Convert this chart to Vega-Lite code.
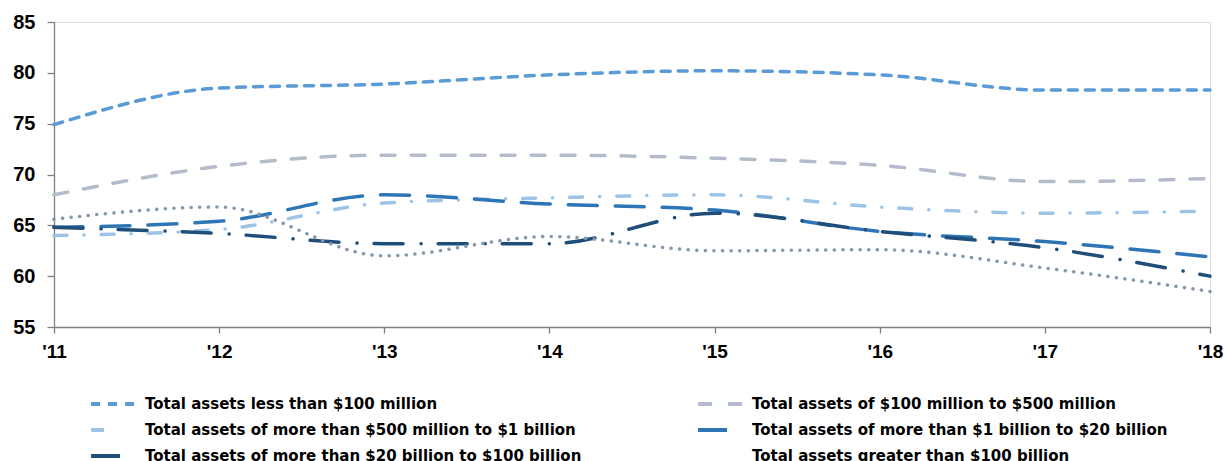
{
  "$schema": "https://vega.github.io/schema/vega-lite/v6.json",
  "autosize": {"type": "none"},
  "width": 1156,
  "height": 305,
  "padding": {"left": 54, "top": 22, "right": 17, "bottom": 134},
  "background": "white",
  "data": {
    "values": [
      {"year": "'11", "series": "Total assets less than $100 million", "value": 74.9},
      {"year": "'12", "series": "Total assets less than $100 million", "value": 78.5},
      {"year": "'13", "series": "Total assets less than $100 million", "value": 78.9},
      {"year": "'14", "series": "Total assets less than $100 million", "value": 79.8},
      {"year": "'15", "series": "Total assets less than $100 million", "value": 80.2},
      {"year": "'16", "series": "Total assets less than $100 million", "value": 79.8},
      {"year": "'17", "series": "Total assets less than $100 million", "value": 78.3},
      {"year": "'18", "series": "Total assets less than $100 million", "value": 78.3},
      {"year": "'11", "series": "Total assets of $100 million to $500 million", "value": 68.0},
      {"year": "'12", "series": "Total assets of $100 million to $500 million", "value": 70.8},
      {"year": "'13", "series": "Total assets of $100 million to $500 million", "value": 71.9},
      {"year": "'14", "series": "Total assets of $100 million to $500 million", "value": 71.9},
      {"year": "'15", "series": "Total assets of $100 million to $500 million", "value": 71.6},
      {"year": "'16", "series": "Total assets of $100 million to $500 million", "value": 70.9},
      {"year": "'17", "series": "Total assets of $100 million to $500 million", "value": 69.3},
      {"year": "'18", "series": "Total assets of $100 million to $500 million", "value": 69.6},
      {"year": "'11", "series": "Total assets of more than $500 million to $1 billion", "value": 64.0},
      {"year": "'12", "series": "Total assets of more than $500 million to $1 billion", "value": 64.6},
      {"year": "'13", "series": "Total assets of more than $500 million to $1 billion", "value": 67.2},
      {"year": "'14", "series": "Total assets of more than $500 million to $1 billion", "value": 67.7},
      {"year": "'15", "series": "Total assets of more than $500 million to $1 billion", "value": 68.0},
      {"year": "'16", "series": "Total assets of more than $500 million to $1 billion", "value": 66.8},
      {"year": "'17", "series": "Total assets of more than $500 million to $1 billion", "value": 66.2},
      {"year": "'18", "series": "Total assets of more than $500 million to $1 billion", "value": 66.4},
      {"year": "'11", "series": "Total assets of more than $1 billion to $20 billion", "value": 64.8},
      {"year": "'12", "series": "Total assets of more than $1 billion to $20 billion", "value": 65.4},
      {"year": "'13", "series": "Total assets of more than $1 billion to $20 billion", "value": 68.0},
      {"year": "'14", "series": "Total assets of more than $1 billion to $20 billion", "value": 67.1},
      {"year": "'15", "series": "Total assets of more than $1 billion to $20 billion", "value": 66.5},
      {"year": "'16", "series": "Total assets of more than $1 billion to $20 billion", "value": 64.4},
      {"year": "'17", "series": "Total assets of more than $1 billion to $20 billion", "value": 63.4},
      {"year": "'18", "series": "Total assets of more than $1 billion to $20 billion", "value": 61.9},
      {"year": "'11", "series": "Total assets of more than $20 billion to $100 billion", "value": 64.8},
      {"year": "'12", "series": "Total assets of more than $20 billion to $100 billion", "value": 64.2},
      {"year": "'13", "series": "Total assets of more than $20 billion to $100 billion", "value": 63.2},
      {"year": "'14", "series": "Total assets of more than $20 billion to $100 billion", "value": 63.2},
      {"year": "'15", "series": "Total assets of more than $20 billion to $100 billion", "value": 66.2},
      {"year": "'16", "series": "Total assets of more than $20 billion to $100 billion", "value": 64.4},
      {"year": "'17", "series": "Total assets of more than $20 billion to $100 billion", "value": 62.8},
      {"year": "'18", "series": "Total assets of more than $20 billion to $100 billion", "value": 60.0},
      {"year": "'11", "series": "Total assets greater than $100 billion", "value": 65.6},
      {"year": "'12", "series": "Total assets greater than $100 billion", "value": 66.8},
      {"year": "'13", "series": "Total assets greater than $100 billion", "value": 62.0},
      {"year": "'14", "series": "Total assets greater than $100 billion", "value": 63.9},
      {"year": "'15", "series": "Total assets greater than $100 billion", "value": 62.5},
      {"year": "'16", "series": "Total assets greater than $100 billion", "value": 62.6},
      {"year": "'17", "series": "Total assets greater than $100 billion", "value": 60.8},
      {"year": "'18", "series": "Total assets greater than $100 billion", "value": 58.5}
    ]
  },
  "mark": {"type": "line", "interpolate": "monotone", "strokeWidth": 3.5, "strokeCap": "round", "clip": false},
  "encoding": {
    "x": {
      "field": "year", "type": "ordinal", "sort": null,
      "scale": {"type": "point", "padding": 0},
      "axis": {
        "title": null, "labelAngle": 0, "labelFont": "Liberation Sans", "labelFontWeight": "bold",
        "labelFontSize": 19, "labelColor": "#000000", "labelPadding": 9,
        "domainColor": "#7f7f7f", "tickColor": "#7f7f7f", "tickSize": 6, "domainWidth": 1.3, "tickWidth": 1.3, "grid": false
      }
    },
    "y": {
      "field": "value", "type": "quantitative",
      "scale": {"domain": [55, 85], "nice": false, "zero": false},
      "axis": {
        "title": null, "values": [55, 60, 65, 70, 75, 80, 85], "labelFont": "Liberation Sans", "labelFontWeight": "bold",
        "labelFontSize": 20, "labelColor": "#000000", "labelPadding": 12,
        "domainColor": "#7f7f7f", "tickColor": "#7f7f7f", "tickSize": 7, "domainWidth": 1.3, "tickWidth": 1.3, "grid": false
      }
    },
    "color": {
      "field": "series", "type": "nominal",
      "scale": {
        "domain": [
          "Total assets less than $100 million",
          "Total assets of $100 million to $500 million",
          "Total assets of more than $500 million to $1 billion",
          "Total assets of more than $1 billion to $20 billion",
          "Total assets of more than $20 billion to $100 billion",
          "Total assets greater than $100 billion"
        ],
        "range": ["#5b9bd5", "#b4bccb", "#9dc3e6", "#2e75b6", "#1f4e79", "#8497b0"]
      },
      "legend": {
        "title": null, "orient": "none", "direction": "horizontal", "legendX": 42, "legendY": 364, "columns": 2, "columnPadding": 108,
        "rowPadding": 0, "symbolType": "M-1.45,0H1.45", "symbolSize": 1000, "symbolStrokeWidth": 4,
        "labelFont": "DejaVu Sans", "labelFontWeight": "bold", "labelFontSize": 15, "labelColor": "#000000",
        "labelOffset": 13, "labelLimit": 600
      }
    },
    "strokeDash": {
      "field": "series", "type": "nominal",
      "scale": {
        "domain": [
          "Total assets less than $100 million",
          "Total assets of $100 million to $500 million",
          "Total assets of more than $500 million to $1 billion",
          "Total assets of more than $1 billion to $20 billion",
          "Total assets of more than $20 billion to $100 billion",
          "Total assets greater than $100 billion"
        ],
        "range": [[9, 8], [14, 16], [13, 17, 0.1, 17], [29, 18], [29, 18, 0.1, 17], [0.1, 8.5]]
      }
    }
  }
}
